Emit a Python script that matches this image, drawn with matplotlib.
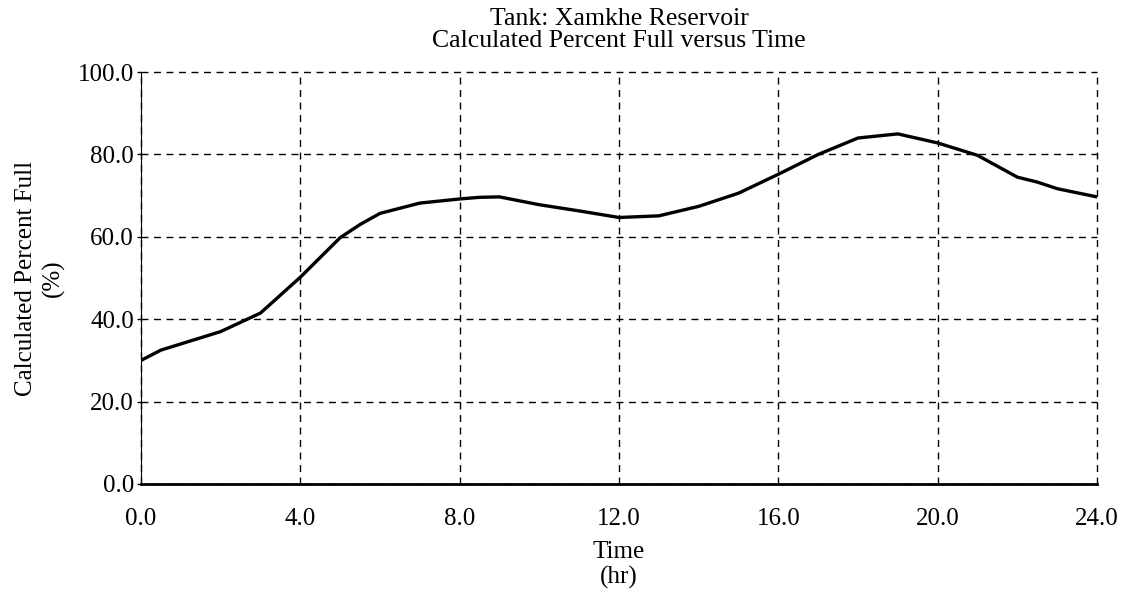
import matplotlib
matplotlib.use("Agg")
import matplotlib.pyplot as plt

times = [0, 0.5, 1, 2, 3, 4, 5, 5.5, 6, 7, 8, 8.5, 9, 10, 11, 12, 13, 14, 14.5,
         15, 16, 17, 18, 19, 20, 21, 22, 22.5, 23, 24]
percent_full = [30.0, 32.5, 34.0, 37.0, 41.5, 50.2, 59.8, 63.0, 65.7, 68.2, 69.2,
                69.6, 69.7, 67.8, 66.3, 64.7, 65.1, 67.4, 69.0, 70.6, 75.2, 80.0,
                84.0, 85.0, 82.8, 79.8, 74.5, 73.3, 71.7, 69.7]
x_ticks = [0, 4, 8, 12, 16, 20, 24]
x_tick_labels = ["0.0", "4.0", "8.0", "12.0", "16.0", "20.0", "24.0"]
y_ticks = [0, 20, 40, 60, 80, 100]
y_tick_labels = ["0.0", "20.0", "40.0", "60.0", "80.0", "100.0"]

plt.rcParams['font.family'] = ['Liberation Serif', 'DejaVu Serif']

fig = plt.figure(figsize=(11.28, 5.96), dpi=100)
ax = fig.add_axes([0.125, 0.188, 0.8475, 0.691])

ax.plot(times, percent_full, color='black', linewidth=2.4, zorder=3)

ax.set_xlim(0, 24)
ax.set_ylim(0, 100)
ax.set_xticks(x_ticks)
ax.set_xticklabels(x_tick_labels)
ax.set_yticks(y_ticks)
ax.set_yticklabels(y_tick_labels)
ax.tick_params(axis='both', labelsize=18, length=3, width=1, direction='out', pad=2)
ax.tick_params(axis='x', length=0, pad=17)

ax.grid(True, color='black', linestyle=(0, (5, 4)), linewidth=1.0)
for gl in ax.get_xgridlines() + ax.get_ygridlines():
    gl.set_clip_on(False)

for s in ['top', 'right']:
    ax.spines[s].set_visible(False)
ax.spines['left'].set_linewidth(0.8)
ax.spines['bottom'].set_linewidth(2.0)
ax.spines['bottom'].set_zorder(4)

ax.set_title("Tank: Xamkhe Reservoir\nCalculated Percent Full versus Time",
             fontsize=18.5, linespacing=0.98, pad=18)
ax.set_xlabel("Time\n(hr)", fontsize=18, linespacing=1.2, labelpad=8)
ax.set_ylabel("Calculated Percent Full\n(%)", fontsize=18, linespacing=1.3, labelpad=9)

fig.savefig("out.png", dpi=100)
